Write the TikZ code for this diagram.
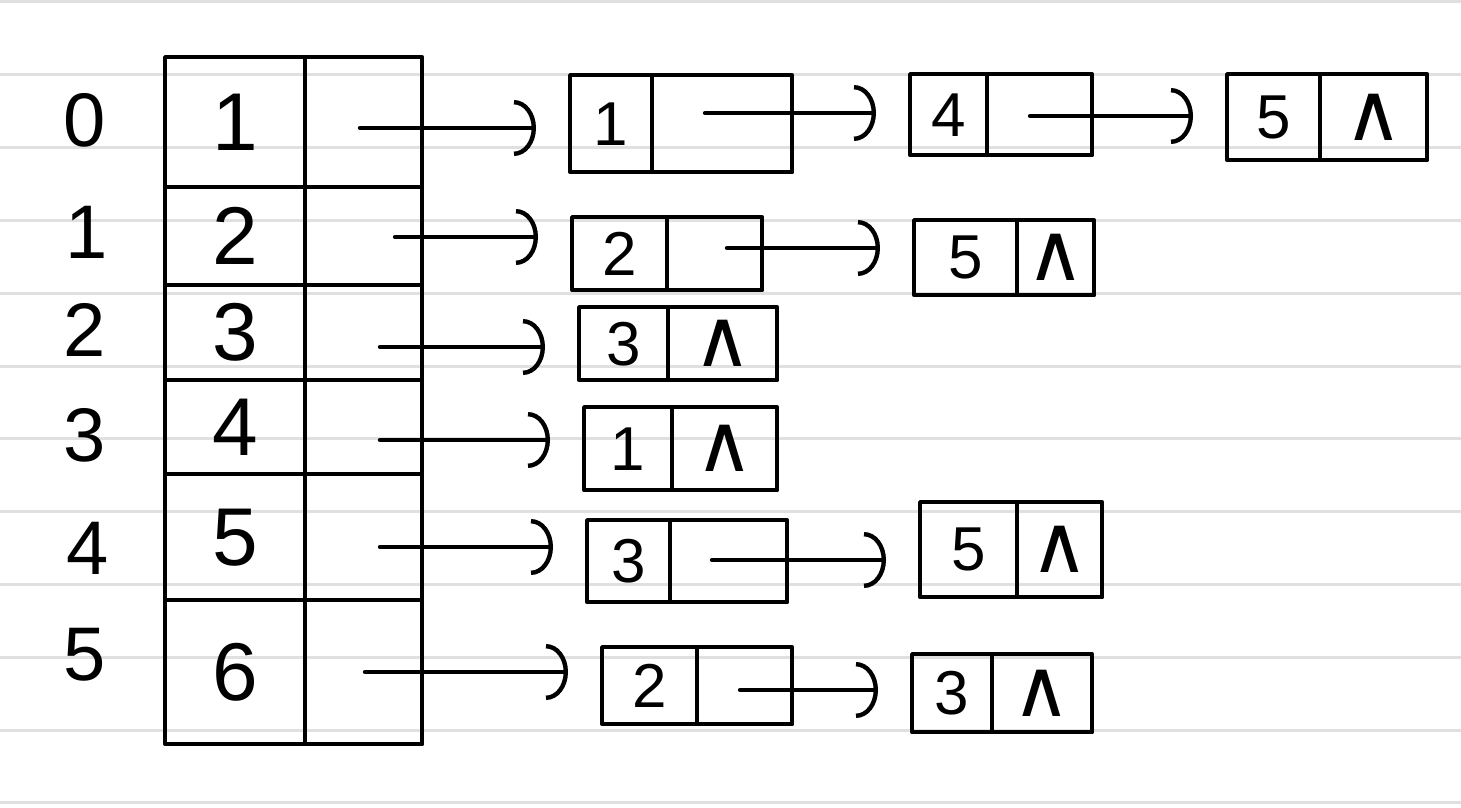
\documentclass[tikz,border=0pt]{standalone}
\usepackage{fontspec}
\setmainfont{Liberation Sans}
\newfontfamily\symfont{DejaVu Sans}
\usetikzlibrary{arrows.meta,calc}
\definecolor{ruleGray}{RGB}{224,224,224}
% a drawn cell: [style]{name}{left}{top}{width}{height}{text}
\newcommand\tcell[7][]{%
  \node[cell,#1,minimum width=#5*0.5pt,minimum height=#6*0.5pt] (#2) at (#3,#4) {#7};}
\newcommand\nul{{\symfont\fontsize{40}{40}\selectfont ∧}}
\begin{document}
\begin{tikzpicture}[x=0.5pt,y=-0.5pt,
  ink/.style={line width=2.2pt,line join=round,line cap=round},
  rule/.style={line width=1.5pt,draw=ruleGray},
  cell/.style={draw,ink,inner sep=0pt,anchor=north west},
  idx/.style={font=\fontsize{38}{38}\selectfont},
  big/.style={font=\fontsize{41}{41}\selectfont},
  small/.style={font=\fontsize{31}{31}\selectfont},
  ptr/.style={ink,-{Arc Barb[length=11pt,width=28pt]},shorten >=16pt},
]
\useasboundingbox[fill=white] (0,0) rectangle (1461,808);
% ruled paper
\foreach \k in {0,...,11}
  \draw[rule] (0,{2+72.8*\k}) -- (1461,{2+72.8*\k});

% vertex indices
\node[idx] (i0) at (85,120) {0};
\node[idx] (i1) at (87,232) {1};
\node[idx] (i2) at (85,330) {2};
\node[idx] (i3) at (85,435) {3};
\node[idx] (i4) at (88,548) {4};
\node[idx] (i5) at (85,655) {5};

% vertex table: data | first edge
\tcell[big]{d0}{163}{55}{140}{130}{1}
\tcell[big]{d1}{163}{185}{140}{98}{2}
\tcell[big]{d2}{163}{283}{140}{95}{3}
\tcell[big]{d3}{163}{378}{140}{94}{4}
\tcell[big]{d4}{163}{472}{140}{126}{5}
\tcell[big]{d5}{163}{598}{140}{144}{6}
\tcell{p0}{303}{55}{117}{130}{}
\tcell{p1}{303}{185}{117}{98}{}
\tcell{p2}{303}{283}{117}{95}{}
\tcell{p3}{303}{378}{117}{94}{}
\tcell{p4}{303}{472}{117}{126}{}
\tcell{p5}{303}{598}{117}{144}{}

% edge lists
\tcell[small]{a0d}{568}{73}{82}{97}{1}
\tcell{a0p}{650}{73}{140}{97}{}
\tcell[small]{a1d}{908}{72}{77}{81}{4}
\tcell{a1p}{985}{72}{105}{81}{}
\tcell[small]{a2d}{1225}{72}{93}{86}{5}
\tcell{a2p}{1318}{72}{107}{86}{\nul}

\tcell[small]{b0d}{570}{215}{95}{73}{2}
\tcell{b0p}{665}{215}{95}{73}{}
\tcell[small]{b1d}{912}{218}{103}{75}{5}
\tcell{b1p}{1015}{218}{77}{75}{\nul}

\tcell[small]{c0d}{577}{305}{89}{73}{3}
\tcell{c0p}{666}{305}{109}{73}{\nul}

\tcell[small]{e3d}{582}{405}{88}{83}{1}
\tcell{e3p}{670}{405}{105}{83}{\nul}

\tcell[small]{e0d}{585}{518}{83}{82}{3}
\tcell{e0p}{668}{518}{117}{82}{}
\tcell[small]{e1d}{918}{500}{97}{95}{5}
\tcell{e1p}{1015}{500}{85}{95}{\nul}

\tcell[small]{f0d}{600}{645}{95}{77}{2}
\tcell{f0p}{695}{645}{95}{77}{}
\tcell[small]{f1d}{910}{652}{80}{78}{3}
\tcell{f1p}{990}{652}{100}{78}{\nul}

% pointer tails inside the pointer cells
\coordinate (s0) at (360,128);
\coordinate (s1) at (395,237);
\coordinate (s2) at (380,347);
\coordinate (s3) at (380,440);
\coordinate (s4) at (380,547);
\coordinate (s5) at (365,672);
\coordinate (t0) at (705,113);
\coordinate (t1) at (1030,116);
\coordinate (t2) at (727,248);
\coordinate (t3) at (712,560);
\coordinate (t4) at (740,690);

% pointers
\draw[ptr] (s0) -- (s0 -| a0d.west);
\draw[ptr] (s1) -- (s1 -| b0d.west);
\draw[ptr] (s2) -- (s2 -| c0d.west);
\draw[ptr] (s3) -- (s3 -| e3d.west);
\draw[ptr] (s4) -- (s4 -| e0d.west);
\draw[ptr] (s5) -- (s5 -| f0d.west);
\draw[ptr] (t0) -- (t0 -| a1d.west);
\draw[ptr] (t1) -- (t1 -| a2d.west);
\draw[ptr] (t2) -- (t2 -| b1d.west);
\draw[ptr] (t3) -- (t3 -| e1d.west);
\draw[ptr] (t4) -- (t4 -| f1d.west);
\end{tikzpicture}
\end{document}
